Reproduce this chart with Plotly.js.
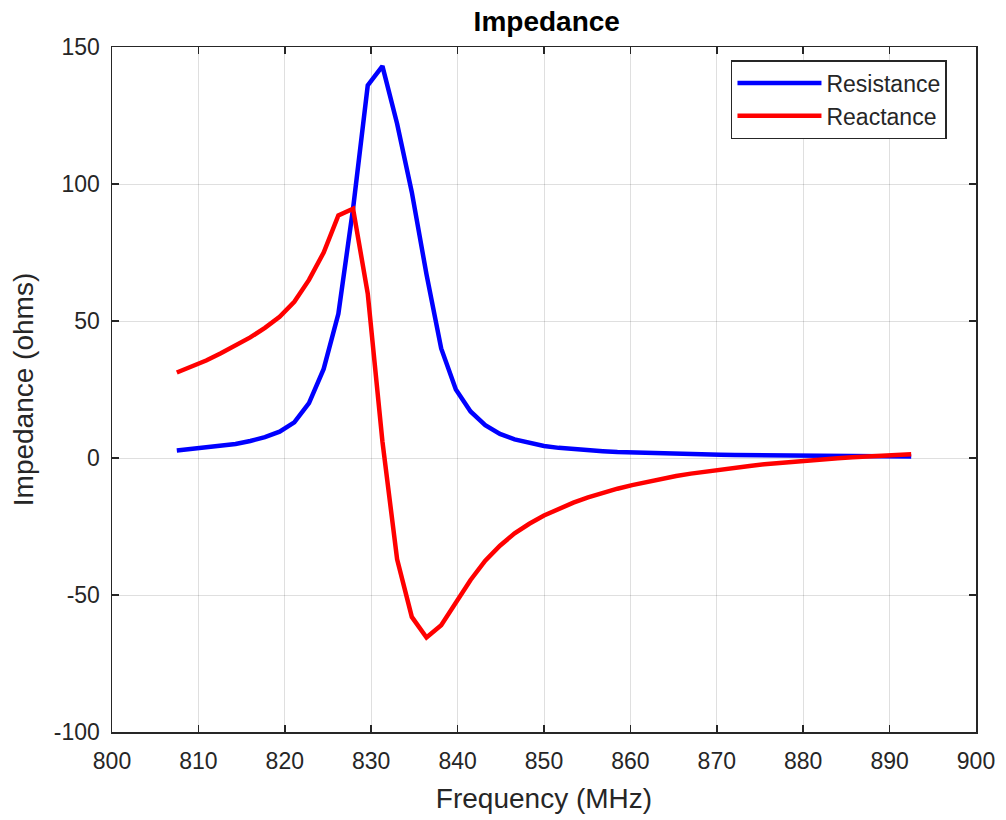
<!DOCTYPE html>
<html>
<head>
<meta charset="utf-8">
<script src="https://cdn.plot.ly/plotly-3.0.1.min.js"></script>
<style>html,body{margin:0;padding:0;background:#fff;}#chart{width:1006px;height:820px;}</style>
</head>
<body>
<div id="chart"></div>
<script>
const frequency = [807.5, 809.2, 810.9, 812.6, 814.3, 816.0, 817.7, 819.4, 821.1, 822.8,
  824.5, 826.2, 827.9, 829.6, 831.3, 833.0, 834.7, 836.4, 838.1, 839.8,
  841.5, 843.2, 844.9, 846.6, 848.3, 850.0, 851.7, 853.4, 855.1, 856.8,
  858.5, 860.2, 861.9, 863.6, 865.3, 867.0, 868.7, 870.4, 872.1, 873.8,
  875.5, 877.2, 878.9, 880.6, 882.3, 884.0, 885.7, 887.4, 889.1, 890.8, 892.5];
const resistance = [2.7, 3.2, 3.7, 4.3, 5.1, 6.2, 7.6, 9.6, 13.0, 20.0,
  32.5, 52.6, 91, 136, 143, 122, 97, 67, 40, 25,
  17, 12, 8.8, 6.8, 5.4, 4.4, 3.7, 3.2, 2.8, 2.5,
  2.2, 2.0, 1.8, 1.65, 1.5, 1.4, 1.3, 1.2, 1.12, 1.05,
  0.98, 0.92, 0.87, 0.82, 0.78, 0.74, 0.7, 0.67, 0.64, 0.61, 0.58];
const reactance = [31.2, 33.3, 35.6, 38.2, 41.0, 44.0, 47.5, 51.5, 57.0, 65.0,
  75.0, 88.5, 91.0, 60.0, 6.0, -37.0, -58.0, -65.5, -61.0, -53.0,
  -44.5, -37.5, -32.0, -27.5, -24.0, -21.0, -18.5, -16.3, -14.4, -12.7,
  -11.2, -9.9, -8.7, -7.6, -6.6, -5.7, -4.9, -4.2, -3.5, -2.9,
  -2.3, -1.8, -1.3, -0.9, -0.5, -0.1, 0.25, 0.55, 0.85, 1.1, 1.35];
const xTicks = [800, 810, 820, 830, 840, 850, 860, 870, 880, 890, 900];
const yTicks = [-100, -50, 0, 50, 100, 150];
const yTickText = ['-100', '-50', '0', '50', '100', '150'];

const font = 'Liberation Sans, Arial, Helvetica, sans-serif';
const axisColor = '#262626';
const gridColor = 'rgba(38,38,38,0.15)';

const traces = [
  {x: frequency, y: resistance, name: 'Resistance', type: 'scatter', mode: 'lines',
   line: {color: '#0000ff', width: 4.5}},
  {x: frequency, y: reactance, name: 'Reactance', type: 'scatter', mode: 'lines',
   line: {color: '#ff0000', width: 4.5}}
];

const layout = {
  width: 1006, height: 820,
  margin: {l: 112, r: 30, t: 47, b: 88},
  paper_bgcolor: '#fff', plot_bgcolor: '#fff',
  font: {family: font, color: axisColor, size: 23},
  title: {text: '<b>Impedance</b>', x: 0.5435, xanchor: 'center', y: 0.974, yanchor: 'middle',
          font: {family: font, size: 28, color: '#000'}},
  xaxis: {
    range: [800, 900], tickvals: xTicks, ticktext: xTicks.map(String),
    showline: true, linecolor: axisColor, linewidth: 1.5, mirror: 'ticks',
    ticks: 'inside', ticklen: 7, tickcolor: axisColor, tickwidth: 1.5,
    showgrid: true, gridcolor: gridColor, gridwidth: 1, zeroline: false,
    tickfont: {size: 23, color: axisColor}, ticklabelstandoff: 8,
    title: {text: 'Frequency (MHz)', font: {size: 28, color: axisColor}, standoff: 15}
  },
  yaxis: {
    range: [-100, 150], tickvals: yTicks, ticktext: yTickText,
    showline: true, linecolor: axisColor, linewidth: 1.5, mirror: 'ticks',
    ticks: 'inside', ticklen: 7, tickcolor: axisColor, tickwidth: 1.5,
    showgrid: true, gridcolor: gridColor, gridwidth: 1, zeroline: false,
    tickfont: {size: 23, color: axisColor}, ticklabelstandoff: 6,
    title: {text: 'Impedance (ohms)', font: {size: 28, color: axisColor}, standoff: 12}
  },
  showlegend: true,
  legend: {x: 0.9664, xanchor: 'right', y: 0.981, yanchor: 'top',
    bgcolor: '#fff', bordercolor: axisColor, borderwidth: 1.5,
    font: {size: 23, color: axisColor}, itemwidth: 84, tracegroupgap: 0}
};

Plotly.newPlot('chart', traces, layout, {displayModeBar: false, staticPlot: true});
</script>
</body>
</html>
